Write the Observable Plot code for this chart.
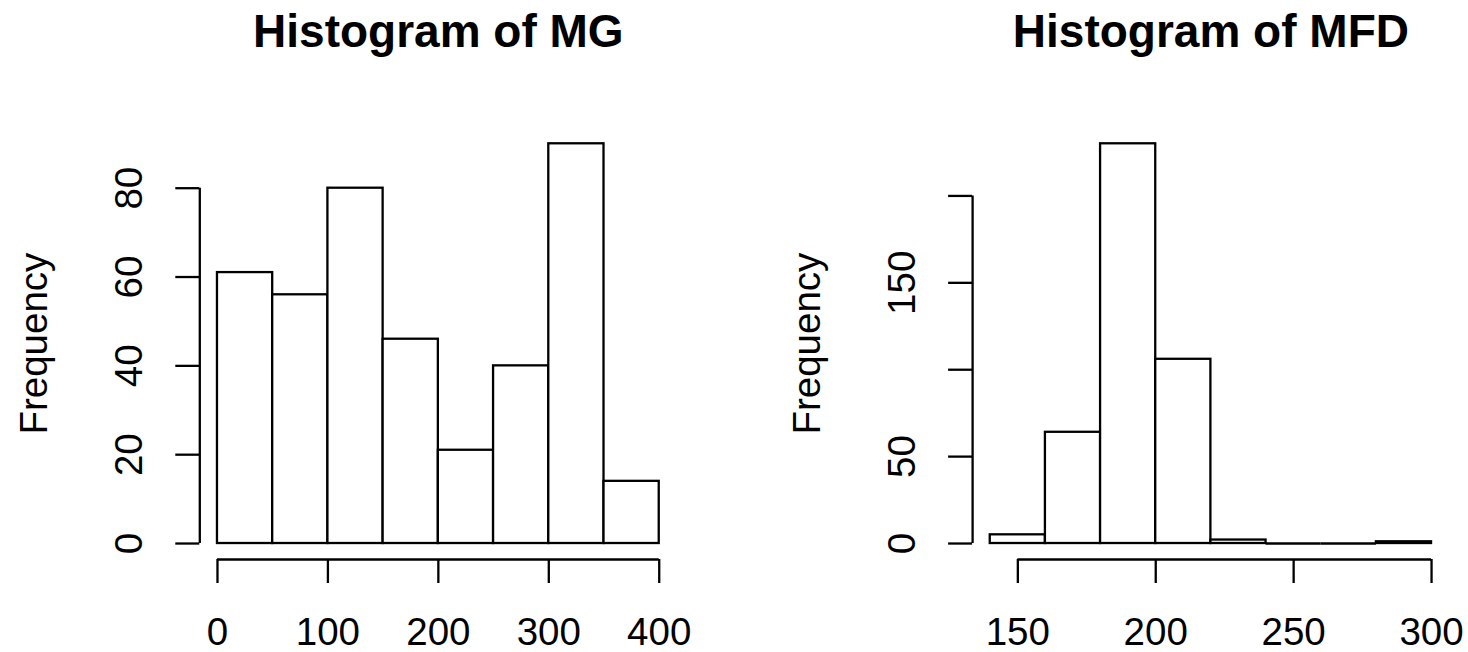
<!DOCTYPE html>
<html>
<head>
<meta charset="utf-8">
<script src="https://cdn.jsdelivr.net/npm/d3@7"></script>
<script src="https://cdn.jsdelivr.net/npm/@observablehq/plot@0.6"></script>
<style>
  html, body { margin: 0; padding: 0; background: #fff; }
  #wrap { display: flex; width: 1468px; height: 652px; }
  #wrap svg { display: block; }
</style>
</head>
<body>
<div id="wrap"></div>
<script>
// ---- data ----
const mgTitle = "Histogram of MG";
const mgBreaks = [0, 50, 100, 150, 200, 250, 300, 350, 400];
const mgCounts = [61, 56, 80, 46, 21, 40, 90, 14];
const mgXTicks = [0, 100, 200, 300, 400];
const mgYTicks = [0, 20, 40, 60, 80];
const mgYLabels = ["0", "20", "40", "60", "80"];

const mfdTitle = "Histogram of MFD";
const mfdBreaks = [140, 160, 180, 200, 220, 240, 260, 280, 300];
const mfdCounts = [5, 64, 230, 106, 2, 0, 0, 1];
const mfdXTicks = [150, 200, 250, 300];
const mfdYTicks = [0, 50, 100, 150, 200];
const mfdYLabels = ["0", "50", "", "150", ""];

const yLabelText = "Frequency";

// ---- drawing ----
const LW = 2.3;
const FS = 38.5;
const FONT = "'Liberation Sans', Arial, Helvetica, sans-serif";

function ext(lo, hi) {
  const d = (hi - lo) * 0.04;
  return [lo - d, hi + d];
}

function panel({title, breaks, counts, xTicks, yTicks, yLabels, marginLeft, marginRight}) {
  const bins = counts.map((c, i) => ({x1: breaks[i], x2: breaks[i + 1], count: c}));
  const xDomain = ext(breaks[0], breaks[breaks.length - 1]);
  const yDomain = ext(0, d3.max(counts));
  return Plot.plot({
    width: 734,
    height: 652,
    marginLeft,
    marginRight,
    marginTop: 127.3,
    marginBottom: 93,
    style: {fontFamily: FONT, fontSize: FS + "px", background: "#fff", color: "#000", overflow: "visible"},
    x: {domain: xDomain},
    y: {domain: yDomain},
    marks: [
      Plot.rectY(bins, {x1: "x1", x2: "x2", y: "count", fill: "white", stroke: "black", strokeWidth: LW}),
      Plot.ruleY(bins.filter(d => d.count === 0), {x1: "x1", x2: "x2", y: 0, stroke: "black", strokeWidth: LW}),
      // x axis
      Plot.ruleY([yDomain[0]], {x1: xTicks[0], x2: xTicks[xTicks.length - 1], stroke: "black", strokeWidth: LW}),
      Plot.axisX(xTicks, {anchor: "bottom", tickSize: 24, tickPadding: 34, fontSize: FS, label: null, strokeWidth: LW}),
      // y axis
      Plot.ruleX([xDomain[0]], {y1: yTicks[0], y2: yTicks[yTicks.length - 1], stroke: "black", strokeWidth: LW}),
      Plot.axisY(yTicks, {anchor: "left", tickSize: 24, tickFormat: () => "", label: null, strokeWidth: LW}),
      Plot.text(yTicks, {y: d => d, text: (d, i) => yLabels[i], frameAnchor: "left", dx: -57.5, rotate: -90,
        textAnchor: "middle", lineAnchor: "bottom", fontSize: FS, fill: "black"}),
      Plot.text([yLabelText], {text: d => d, frameAnchor: "left", dx: -153, rotate: -90,
        textAnchor: "middle", lineAnchor: "bottom", fontSize: FS, fill: "black"}),
      Plot.text([title], {text: d => d, frameAnchor: "top", dy: -80.6, lineAnchor: "bottom",
        fontSize: 46, fontWeight: "bold", fill: "black"})
    ]
  });
}

const wrap = document.getElementById("wrap");
wrap.append(panel({title: mgTitle, breaks: mgBreaks, counts: mgCounts, xTicks: mgXTicks,
  yTicks: mgYTicks, yLabels: mgYLabels, marginLeft: 199.3, marginRight: 57.6}));
wrap.append(panel({title: mfdTitle, breaks: mfdBreaks, counts: mfdCounts, xTicks: mfdXTicks,
  yTicks: mfdYTicks, yLabels: mfdYLabels, marginLeft: 238.1, marginRight: 19.3}));
</script>
</body>
</html>
